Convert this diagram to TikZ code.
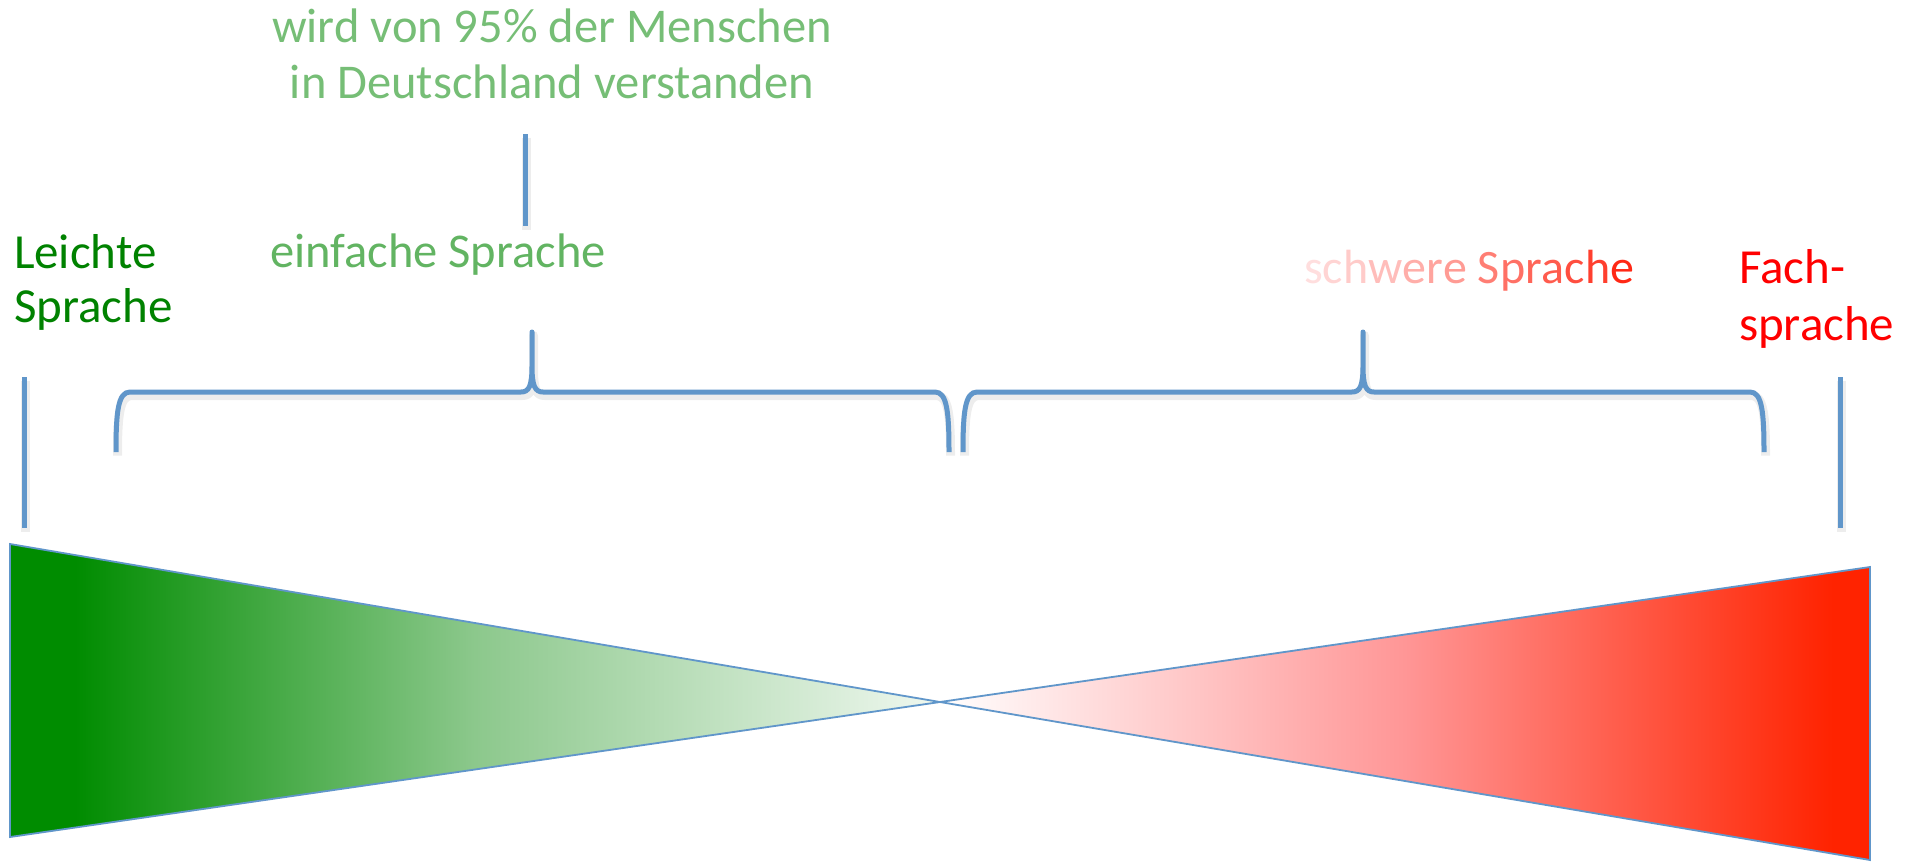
\documentclass[tikz,border=0pt]{standalone}
\usepackage{fontspec}
\setmainfont{Carlito}

% palette
\definecolor{linkblue}{RGB}{96,150,202}
\definecolor{easygreen}{RGB}{0,130,0}
\definecolor{plaingreen}{RGB}{98,180,98}
\definecolor{notegreen}{RGB}{118,190,118}
\definecolor{techred}{RGB}{255,0,0}
\definecolor{swStart}{RGB}{255,222,222}
\definecolor{swEnd}{RGB}{255,30,10}
\definecolor{gDark}{RGB}{0,140,0}
\definecolor{gMid}{RGB}{140,200,140}
\definecolor{gLight}{RGB}{240,248,240}
\definecolor{rMid}{RGB}{255,150,150}
\definecolor{rDark}{RGB}{255,35,0}

% fills of the two wedges (path box = 25bp..75bp)
\pgfdeclarehorizontalshading{greenfade}{100bp}{%
  color(0bp)=(gDark); color(28.5bp)=(gDark); color(50bp)=(gMid);
  color(75bp)=(gLight); color(100bp)=(gLight)}
\pgfdeclarehorizontalshading{redfade}{100bp}{%
  color(0bp)=(white); color(25bp)=(white); color(50bp)=(rMid);
  color(73bp)=(rDark); color(100bp)=(rDark)}

% one letter of the fading label
\newcommand{\swl}[2]{\textcolor{swEnd!#1!swStart}{#2}}

\tikzset{
  bar/.style={draw=linkblue, line width=5pt, line cap=butt, line join=round},
  barshadow/.style={draw=black, line width=9pt, opacity=0.07, line cap=butt,
                    line join=round, shift={(1.5pt,-3.5pt)}},
  wedge/.style={draw=linkblue, line width=1.8pt, line join=miter},
  wedgeshadow/.style={fill=black, opacity=0.13, shift={(2pt,-4pt)}},
  label/.style={inner sep=0pt, outer sep=0pt},
}

\begin{document}
\begin{tikzpicture}[x=1pt,y=-1pt]
\useasboundingbox (0,0) rectangle (1917,863);
\fill[white] (0,0) rectangle (1917,863);

% key points of the two wedges
\coordinate (gTop) at (10,544);
\coordinate (gBot) at (10,837);
\coordinate (mid)  at (940,702);
\coordinate (rTop) at (1870,567);
\coordinate (rBot) at (1870,860);

% wedge shadows
\fill[wedgeshadow] (gTop) -- (mid) -- (gBot) -- cycle;
\fill[wedgeshadow] (rTop) -- (mid) -- (rBot) -- cycle;

% wedges
\shade[shading=greenfade] (gTop) -- (mid) -- (gBot) -- cycle;
\shade[shading=redfade] (rTop) -- (mid) -- (rBot) -- cycle;
\draw[wedge] (gTop) -- (mid) -- (gBot) -- cycle;
\draw[wedge] (rTop) -- (mid) -- (rBot) -- cycle;

% brace and tick paths
\def\leftbrace{(116,452) .. controls (116,412) and (118,392) .. (130,392)
  -- (521,392) .. controls (529,392) and (532,386) .. (532,366) -- (532,332)
  -- (532,366) .. controls (532,386) and (535,392) .. (543,392)
  -- (935,392) .. controls (947,392) and (949,412) .. (949,452)}
\def\rightbrace{(963,452) .. controls (963,412) and (965,392) .. (977,392)
  -- (1352,392) .. controls (1360,392) and (1363,386) .. (1363,366) -- (1363,332)
  -- (1363,366) .. controls (1363,386) and (1366,392) .. (1374,392)
  -- (1750,392) .. controls (1762,392) and (1764,412) .. (1764,452)}

% soft shadows under the blue strokes
\draw[barshadow] \leftbrace;
\draw[barshadow] \rightbrace;
\draw[barshadow] (24,377) -- (24,528);
\draw[barshadow] (1840,377) -- (1840,528);
\draw[barshadow] (525,134) -- (525,226);

% blue strokes
\draw[bar] \leftbrace;
\draw[bar] \rightbrace;
\draw[bar] (24,377) -- (24,528);
\draw[bar] (1840,377) -- (1840,528);
\draw[bar] (525,134) -- (525,226);

% labels (multi-line nodes sit on the baseline of their last line)
\node[label, anchor=base west, align=left, text=easygreen,
      font=\fontsize{49}{54}\selectfont] (leicht) at (14,322)
      {Leichte\\Sprache};
\node[label, anchor=base west, align=left, text=techred,
      font=\fontsize{49}{57}\selectfont] (fach) at (1739,340)
      {Fach-\\sprache};
\node[label, anchor=base west, text=plaingreen,
      font=\fontsize{48.5}{57}\selectfont] (einfach) at (270,267)
      {einfache Sprache};
\node[label, anchor=base, align=center, text=notegreen,
      font=\fontsize{48.5}{56}\selectfont] (note) at (552,98)
      {wird von 95\% der Menschen\\in Deutschland verstanden};
\node[label, anchor=base west,
      font=\fontsize{48}{57}\selectfont] (schwer) at (1304,283)
      {\swl{0}{s}\swl{5}{c}\swl{10}{h}\swl{17}{w}\swl{25}{e}\swl{30}{r}\swl{35}{e}
       \swl{50}{S}\swl{57}{p}\swl{63}{r}\swl{68}{a}\swl{75}{c}\swl{83}{h}\swl{95}{e}};
\end{tikzpicture}
\end{document}
